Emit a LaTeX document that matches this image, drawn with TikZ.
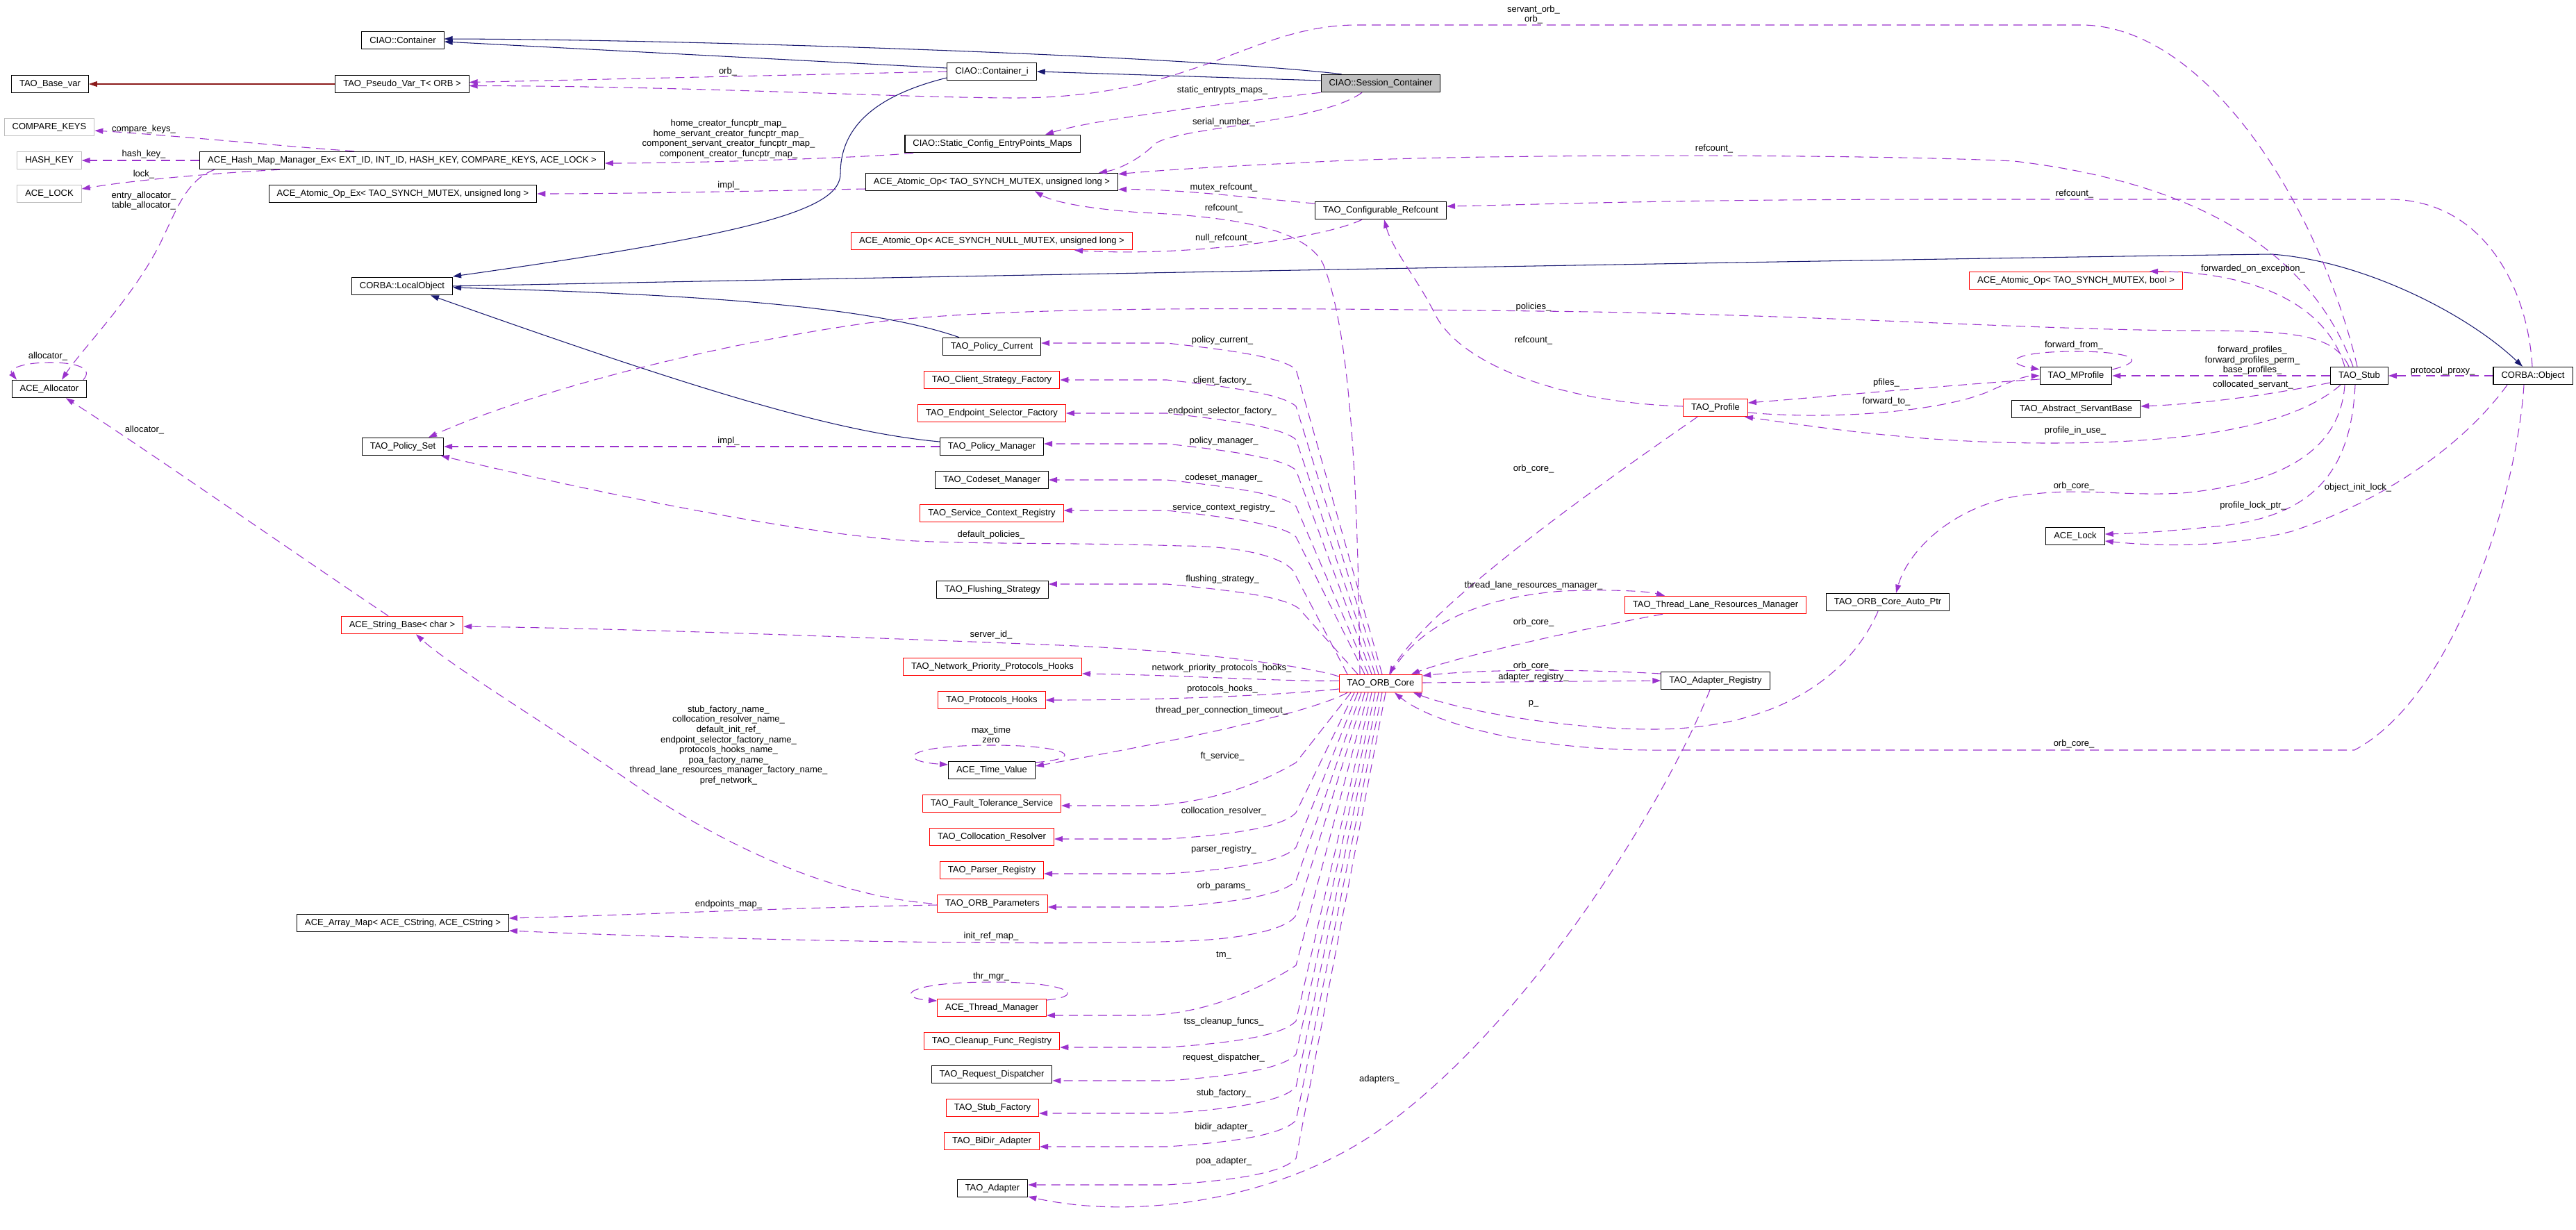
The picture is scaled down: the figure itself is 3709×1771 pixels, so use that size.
\documentclass[tikz,border=0pt]{standalone}
\usepackage{fontspec}
\setmainfont{Liberation Sans}
\usetikzlibrary{arrows.meta}
\definecolor{inhblue}{HTML}{191970}
\definecolor{usepurple}{HTML}{9A32CD}
\definecolor{protred}{HTML}{8B1A1A}
\definecolor{tplgray}{HTML}{BFBFBF}
\begin{document}
\begin{tikzpicture}[x=0.02cm,y=-0.02cm,
  every node/.style={font=\fontsize{7.4}{8.3}\selectfont},
  cls/.style={draw=black,line width=0.6pt,inner xsep=0.23cm,inner ysep=0pt,minimum height=0.51cm,fill=white},
  redcls/.style={cls,draw=red},
  tplcls/.style={cls,draw=tplgray},
  curcls/.style={cls,fill=tplgray},
  inh/.style={draw=inhblue,line width=0.6pt,-{Triangle[length=0.24cm,width=0.16cm]}},
  prot/.style={draw=protred,line width=0.6pt,-{Triangle[length=0.24cm,width=0.16cm]}},
  usage/.style={draw=usepurple,line width=0.6pt,dash pattern=on 0.26cm off 0.16cm,-{Triangle[length=0.24cm,width=0.16cm]}},
  lbl/.style={inner sep=0pt,align=center}
]
\path[fill=white] (0,0) rectangle (3709,1771);
\useasboundingbox (0,0) rectangle (3709,1771);

% ---------- classes ----------
\node[cls] (cont) at (580,58) {CIAO::Container};
\node[cls] (contI) at (1428,103) {CIAO::Container\_i};
\node[curcls] (sess) at (1988,120) {CIAO::Session\_Container};
\node[cls] (basevar) at (72,121) {TAO\_Base\_var};
\node[cls] (pseudo) at (579,121) {TAO\_Pseudo\_Var\_T< ORB >};
\node[tplcls] (cmpk) at (71,183) {COMPARE\_KEYS};
\node[tplcls] (hashk) at (71,231) {HASH\_KEY};
\node[cls] (hmm) at (579,231) {ACE\_Hash\_Map\_Manager\_Ex< EXT\_ID, INT\_ID, HASH\_KEY, COMPARE\_KEYS, ACE\_LOCK >};
\node[tplcls] (acelockp) at (71,279) {ACE\_LOCK};
\node[cls] (atomex) at (580,279) {ACE\_Atomic\_Op\_Ex< TAO\_SYNCH\_MUTEX, unsigned long >};
\node[cls] (static) at (1429,207) {CIAO::Static\_Config\_EntryPoints\_Maps};
\node[cls] (atomul) at (1428,262) {ACE\_Atomic\_Op< TAO\_SYNCH\_MUTEX, unsigned long >};
\node[redcls] (atomnull) at (1428,347) {ACE\_Atomic\_Op< ACE\_SYNCH\_NULL\_MUTEX, unsigned long >};
\node[cls] (cfgref) at (1988,303) {TAO\_Configurable\_Refcount};
\node[cls] (localobj) at (579,412) {CORBA::LocalObject};
\node[redcls] (atombool) at (2989,404) {ACE\_Atomic\_Op< TAO\_SYNCH\_MUTEX, bool >};
\node[cls] (policycur) at (1428,499) {TAO\_Policy\_Current};
\node[redcls] (clientsf) at (1428,547) {TAO\_Client\_Strategy\_Factory};
\node[redcls] (endpsf) at (1428,595) {TAO\_Endpoint\_Selector\_Factory};
\node[cls] (policyman) at (1428,643) {TAO\_Policy\_Manager};
\node[cls] (policyset) at (580,643) {TAO\_Policy\_Set};
\node[cls] (allocator) at (71,560) {ACE\_Allocator};
\node[redcls] (profile) at (2470,587) {TAO\_Profile};
\node[cls] (mprofile) at (2989,541) {TAO\_MProfile};
\node[cls] (stub) at (3397,541) {TAO\_Stub};
\node[cls] (object) at (3647,541) {CORBA::Object};
\node[cls] (servant) at (2989,589) {TAO\_Abstract\_ServantBase};
\node[cls] (codeset) at (1428,691) {TAO\_Codeset\_Manager};
\node[redcls] (scr) at (1428,739) {TAO\_Service\_Context\_Registry};
\node[cls] (lock) at (2988,772) {ACE\_Lock};
\node[cls] (flush) at (1429,849) {TAO\_Flushing\_Strategy};
\node[redcls] (tlrm) at (2470,871) {TAO\_Thread\_Lane\_Resources\_Manager};
\node[cls] (autoptr) at (2718,867) {TAO\_ORB\_Core\_Auto\_Ptr};
\node[redcls] (strbase) at (579,900) {ACE\_String\_Base< char >};
\node[redcls] (nph) at (1429,960) {TAO\_Network\_Priority\_Protocols\_Hooks};
\node[redcls] (orbcore) at (1988,984) {TAO\_ORB\_Core};
\node[cls] (adreg) at (2470,980) {TAO\_Adapter\_Registry};
\node[redcls] (ph) at (1428,1008) {TAO\_Protocols\_Hooks};
\node[cls] (timev) at (1428,1109) {ACE\_Time\_Value};
\node[redcls] (fts) at (1428,1157) {TAO\_Fault\_Tolerance\_Service};
\node[redcls] (colres) at (1428,1205) {TAO\_Collocation\_Resolver};
\node[redcls] (parser) at (1428,1253) {TAO\_Parser\_Registry};
\node[redcls] (orbparams) at (1429,1301) {TAO\_ORB\_Parameters};
\node[cls] (arraymap) at (580,1329) {ACE\_Array\_Map< ACE\_CString, ACE\_CString >};
\node[redcls] (thrmgr) at (1428,1451) {ACE\_Thread\_Manager};
\node[redcls] (cleanup) at (1428,1499) {TAO\_Cleanup\_Func\_Registry};
\node[cls] (reqdisp) at (1428,1547) {TAO\_Request\_Dispatcher};
\node[redcls] (stubf) at (1429,1595) {TAO\_Stub\_Factory};
\node[redcls] (bidir) at (1428,1643) {TAO\_BiDir\_Adapter};
\node[cls] (adapter) at (1429,1711) {TAO\_Adapter};

% ---------- inheritance ----------
\draw[inh] ([xshift=0.6cm]sess.north west) .. controls (1700,80) and (1000,57) .. ([yshift=0.04cm]cont.east);
\draw[inh] ([yshift=0.1cm]contI.west) -- ([yshift=-0.04cm]cont.east);
\draw[inh] ([yshift=0.08cm]sess.west) -- (contI.east);
\draw[inh] ([yshift=-0.18cm]contI.west) .. controls (1250,140) and (1210,190) .. (1210,250) .. controls (1210,300) and (1100,335) .. ([yshift=0.28cm]localobj.east);
\draw[inh] ([xshift=-0.94cm]policycur.north) .. controls (1250,440) and (1000,424) .. ([yshift=-0.04cm]localobj.east);
\draw[inh] ([yshift=0.14cm]policyman.west) .. controls (1200,622) and (1000,560) .. ([xshift=0.82cm]localobj.south);
\draw[inh] (localobj.east) .. controls (1500,395) and (2800,372) .. (3270,366) .. controls (3400,375) and (3550,450) .. ([xshift=-0.3cm]object.north);
\draw[prot] (pseudo.west) -- (basevar.east);

% ---------- usage ----------
\draw[usage] (contI.west) -- ([yshift=0.05cm]pseudo.east);
\draw[usage] ([xshift=-0.06cm]stub.north) .. controls (3340,300) and (3180,40) .. (3000,36) -- (1950,36) .. controls (1800,38) and (1720,140) .. (1464,141) .. controls (1300,141) and (1000,124) .. ([yshift=-0.05cm]pseudo.east);
\draw[usage] ([xshift=-1.38cm]hmm.north) .. controls (400,210) and (250,195) .. ([yshift=-0.1cm]cmpk.east);
\draw[usage] (hmm.west) -- (hashk.east);
\draw[usage] ([xshift=-3.52cm]hmm.south) .. controls (330,248) and (200,258) .. ([yshift=0.14cm]acelockp.east);
\draw[usage] ([xshift=-5.4cm]hmm.south) .. controls (270,258) and (255,300) .. (237,337) .. controls (200,420) and (120,500) .. ([xshift=0.36cm]allocator.north);
\draw[usage] ([xshift=0.98cm]allocator.north) .. controls (135,530) and (110,522) .. (72,522) .. controls (30,522) and (12,532) .. ([xshift=-0.94cm]allocator.north);
\draw[usage] ([xshift=-2.28cm]static.south) .. controls (1250,227) and (1000,235) .. ([yshift=-0.08cm]hmm.east);
\draw[usage] (sess.south west) .. controls (1800,145) and (1580,170) .. ([xshift=1.52cm]static.north);
\draw[usage] ([xshift=-0.54cm]sess.south) .. controls (1900,178) and (1690,183) .. (1662,208) .. controls (1640,230) and (1610,244) .. ([xshift=3.08cm]atomul.north);
\draw[usage] ([yshift=-0.2cm]atomul.west) .. controls (1100,275) and (900,279) .. (atomex.east);
\draw[usage] ([xshift=-0.18cm]stub.north) .. controls (3340,400) and (3220,270) .. (2900,232) .. controls (2700,222) and (2100,220) .. (1860,235) .. controls (1750,240) and (1660,246) .. ([yshift=-0.04cm]atomul.north east);
\draw[usage] ([yshift=0.2cm]cfgref.west) .. controls (1820,287) and (1700,272) .. ([yshift=0.05cm]atomul.south east);
\draw[usage] ([xshift=-0.6cm]orbcore.north) .. controls (1955,700) and (1945,480) .. (1905,380) .. controls (1880,330) and (1780,312) .. (1642,306) .. controls (1560,300) and (1515,290) .. ([xshift=1.24cm]atomul.south);
\draw[usage] ([xshift=-0.54cm]cfgref.south) .. controls (1900,345) and (1700,370) .. ([xshift=2.38cm]atomnull.south);
\draw[usage] ([xshift=-0.02cm]object.north) .. controls (3640,420) and (3580,288) .. (3440,287) -- (2800,287) .. controls (2400,287) and (2200,295) .. ([yshift=0.12cm]cfgref.east);
\draw[usage] ([yshift=0.04cm]profile.west) .. controls (2250,580) and (2100,525) .. (2065,450) .. controls (2040,400) and (2005,360) .. ([xshift=0.1cm]cfgref.south);
\draw[usage] (object.west) -- (stub.east);
\draw[usage] ([xshift=-0.42cm]stub.north) .. controls (3350,440) and (3250,392) .. ([xshift=2.12cm]atombool.north);
\draw[usage] (stub.west) -- (mprofile.east);
\draw[usage] ([yshift=0.18cm]mprofile.east) .. controls (3100,517) and (3060,506) .. (2988,506) .. controls (2900,506) and (2880,522) .. ([yshift=0.18cm]mprofile.west);
\draw[usage] ([yshift=-0.1cm]mprofile.west) .. controls (2800,555) and (2620,572) .. ([yshift=0.14cm]profile.east);
\draw[usage] ([yshift=-0.14cm]profile.east) .. controls (2650,606) and (2800,590) .. (2860,565) .. controls (2890,552) and (2910,542) .. (mprofile.west);
\draw[usage] ([yshift=-0.2cm]stub.west) .. controls (3300,562) and (3200,580) .. ([yshift=0.08cm]servant.east);
\draw[usage] ([xshift=-0.54cm]stub.south) .. controls (3300,615) and (3150,638) .. (2950,638) .. controls (2750,638) and (2600,612) .. ([xshift=-0.1cm]profile.south east);
\draw[usage] ([xshift=-0.52cm]profile.south) .. controls (2300,700) and (2060,870) .. ([xshift=0.24cm]orbcore.north);
\draw[usage] ([xshift=-0.42cm]stub.south) .. controls (3370,640) and (3300,695) .. (3142,710) .. controls (3050,715) and (2990,700) .. (2900,715) .. controls (2800,735) and (2745,800) .. ([xshift=0.24cm]autoptr.north);
\draw[usage] ([xshift=-0.12cm]stub.south) .. controls (3385,680) and (3330,742) .. (3200,757) .. controls (3120,765) and (3080,768) .. ([yshift=0.06cm]lock.east);
\draw[usage] ([xshift=-0.74cm]object.south) .. controls (3540,650) and (3420,725) .. (3300,765) .. controls (3200,790) and (3100,786) .. ([yshift=-0.14cm]lock.east);
\draw[usage] ([xshift=-0.26cm]object.south) .. controls (3625,700) and (3540,1000) .. (3390,1080) -- (2400,1080) .. controls (2200,1082) and (2060,1040) .. ([xshift=0.4cm]orbcore.south);
\draw[usage] ([xshift=-0.28cm]autoptr.south) .. controls (2660,980) and (2550,1050) .. (2380,1050) .. controls (2250,1050) and (2100,1022) .. ([xshift=0.94cm]orbcore.south);
\draw[usage] ([xshift=0.28cm]orbcore.north) .. controls (2030,920) and (2100,862) .. (2250,851) .. controls (2330,848) and (2375,852) .. ([xshift=-1.46cm]tlrm.north);
\draw[usage] ([xshift=-1.52cm]tlrm.south) .. controls (2280,905) and (2100,945) .. ([xshift=0.88cm]orbcore.north);
\draw[usage] ([yshift=0.2cm]adreg.west) .. controls (2250,962) and (2120,965) .. ([yshift=0.22cm]orbcore.east);
\draw[usage] ([yshift=0.02cm]orbcore.east) -- (adreg.west);
\draw[usage] ([xshift=-0.16cm]adreg.south) .. controls (2400,1150) and (2200,1480) .. (1979,1632) .. controls (1850,1720) and (1650,1760) .. ([yshift=-0.24cm]adapter.east);
\draw[usage] (policyman.west) -- (policyset.east);
\draw[usage] ([xshift=-0.3cm]stub.north) .. controls (3360,480) and (3300,476) .. (3150,476) .. controls (2900,474) and (2600,452) .. (2216,448) .. controls (1800,443) and (1450,440) .. (1250,465) .. controls (1000,500) and (750,570) .. ([xshift=0.74cm]policyset.north);
\draw[usage] ([xshift=-0.96cm]orbcore.north) -- (1862,822) .. controls (1845,800) and (1780,786) .. (1700,786) .. controls (1550,781) and (1400,784) .. (1300,778) .. controls (1100,762) and (800,695) .. ([xshift=1.1cm]policyset.south);
\draw[usage] ([yshift=0.2cm]orbcore.west) .. controls (1880,958) and (1700,935) .. (1500,928) .. controls (1200,916) and (900,905) .. ([yshift=-0.04cm]strbase.east);
\draw[usage] ([xshift=-0.14cm]orbparams.west) .. controls (1200,1290) and (1050,1220) .. (930,1141) .. controls (800,1050) and (650,960) .. ([xshift=0.4cm]strbase.south);
\draw[usage] ([xshift=-0.4cm]strbase.north) .. controls (400,780) and (200,640) .. ([xshift=0.48cm]allocator.south);
\draw[usage] ([yshift=0.08cm]orbcore.west) .. controls (1860,982) and (1700,972) .. ([yshift=-0.2cm]nph.east);
\draw[usage] ([yshift=-0.16cm]orbcore.west) .. controls (1850,1000) and (1700,1008) .. (ph.east);
\draw[usage] ([xshift=-0.96cm]orbcore.south) .. controls (1880,1030) and (1650,1075) .. ([yshift=0.12cm]timev.east);
\draw[usage] ([yshift=-0.04cm]timev.north east) .. controls (1565,1092) and (1540,1073) .. (1428,1073) .. controls (1300,1073) and (1290,1096) .. ([yshift=0.16cm]timev.west);
\draw[usage] ([yshift=0.22cm]thrmgr.east) .. controls (1565,1434) and (1540,1414) .. (1428,1414) .. controls (1300,1414) and (1290,1437) .. ([yshift=0.2cm]thrmgr.west);
\draw[usage] ([yshift=-0.04cm]orbparams.west) .. controls (1100,1308) and (900,1318) .. ([yshift=0.14cm]arraymap.east);

% top fan from TAO_ORB_Core
\draw[usage] ([xshift=0.04cm]orbcore.north) -- (1866,532) .. controls (1846,514) and (1770,504) .. (1680,494) -- ([yshift=0.1cm]policycur.east);
\draw[usage] ([xshift=-0.06cm]orbcore.north) -- (1866,585) .. controls (1846,567) and (1770,557) .. (1680,547) -- (clientsf.east);
\draw[usage] ([xshift=-0.16cm]orbcore.north) -- (1866,633) .. controls (1846,615) and (1770,605) .. (1680,595) -- (endpsf.east);
\draw[usage] ([xshift=-0.26cm]orbcore.north) -- (1866,677) .. controls (1846,659) and (1770,649) .. (1680,639) -- ([yshift=0.08cm]policyman.east);
\draw[usage] ([xshift=-0.36cm]orbcore.north) -- (1866,729) .. controls (1846,711) and (1770,701) .. (1680,691) -- (codeset.east);
\draw[usage] ([xshift=-0.46cm]orbcore.north) -- (1866,773) .. controls (1846,755) and (1770,745) .. (1680,735) -- ([yshift=0.08cm]scr.east);
\draw[usage] ([xshift=-0.66cm]orbcore.north) -- (1870,876) .. controls (1846,858) and (1770,850) .. (1680,841) -- ([yshift=0.16cm]flush.east);

% bottom fan from TAO_ORB_Core
\draw[usage] ([xshift=-0.86cm]orbcore.south) -- (1866,1098) .. controls (1820,1125) and (1740,1160) .. (1640,1160) -- ([yshift=-0.06cm]fts.east);
\draw[usage] ([xshift=-0.76cm]orbcore.south) -- (1866,1170) .. controls (1846,1192) and (1770,1202) .. (1680,1208) -- ([yshift=-0.06cm]colres.east);
\draw[usage] ([xshift=-0.66cm]orbcore.south) -- (1866,1220) .. controls (1846,1242) and (1770,1252) .. (1680,1258) -- ([yshift=-0.1cm]parser.east);
\draw[usage] ([xshift=-0.56cm]orbcore.south) -- (1866,1268) .. controls (1846,1290) and (1770,1300) .. (1680,1306) -- ([yshift=-0.1cm]orbparams.east);
\draw[usage] ([xshift=-0.46cm]orbcore.south) -- (1866,1318) .. controls (1852,1340) and (1780,1353) .. (1701,1355) .. controls (1500,1363) and (1000,1352) .. ([yshift=-0.22cm]arraymap.east);
\draw[usage] ([xshift=-0.36cm]orbcore.south) -- (1866,1390) .. controls (1820,1420) and (1740,1462) .. (1640,1462) -- ([yshift=-0.22cm]thrmgr.east);
\draw[usage] ([xshift=-0.26cm]orbcore.south) -- (1866,1470) .. controls (1846,1492) and (1770,1502) .. (1680,1508) -- ([yshift=-0.18cm]cleanup.east);
\draw[usage] ([xshift=-0.16cm]orbcore.south) -- (1866,1518) .. controls (1846,1540) and (1770,1550) .. (1680,1556) -- ([yshift=-0.18cm]reqdisp.east);
\draw[usage] ([xshift=-0.06cm]orbcore.south) -- (1866,1565) .. controls (1846,1587) and (1770,1597) .. (1680,1603) -- ([yshift=-0.16cm]stubf.east);
\draw[usage] ([xshift=0.04cm]orbcore.south) -- (1866,1613) .. controls (1846,1635) and (1770,1645) .. (1680,1651) -- ([yshift=-0.16cm]bidir.east);
\draw[usage] ([xshift=0.14cm]orbcore.south) -- (1866,1668) .. controls (1846,1690) and (1770,1700) .. (1680,1706) -- ([yshift=0.1cm]adapter.east);

% ---------- labels ----------
\node[lbl] (Lservantorb) at (2208,21) {servant\_orb\_\\orb\_};
\node[lbl] (Lorb) at (1048,103) {orb\_};
\node[lbl] (Lfuncptr) at (1049,200) {home\_creator\_funcptr\_map\_\\home\_servant\_creator\_funcptr\_map\_\\component\_servant\_creator\_funcptr\_map\_\\component\_creator\_funcptr\_map\_};
\node[lbl] (Lstatic) at (1760,130) {static\_entrypts\_maps\_};
\node[lbl] (Lserial) at (1762,176) {serial\_number\_};
\node[lbl] (Lrefc1) at (2468,214) {refcount\_};
\node[lbl] (Lcmpk) at (207,186) {compare\_keys\_};
\node[lbl] (Lhashk) at (207,222) {hash\_key\_};
\node[lbl] (Llock) at (207,251) {lock\_};
\node[lbl] (Lentry) at (207,289) {entry\_allocator\_\\table\_allocator\_};
\node[lbl] (Limpl1) at (1049,267) {impl\_};
\node[lbl] (Lmutex) at (1762,270) {mutex\_refcount\_};
\node[lbl] (Lrefc2) at (1762,300) {refcount\_};
\node[lbl] (Lrefc3) at (2987,279) {refcount\_};
\node[lbl] (Lnullref) at (1762,343) {null\_refcount\_};
\node[lbl] (Lfwdexc) at (3244,387) {forwarded\_on\_exception\_};
\node[lbl] (Lpolicies) at (2208,442) {policies\_};
\node[lbl] (Lpolcur) at (1760,490) {policy\_current\_};
\node[lbl] (Lrefc4) at (2208,490) {refcount\_};
\node[lbl] (Lfwdfrom) at (2986,497) {forward\_from\_};
\node[lbl] (Lfwdprof) at (3243,519) {forward\_profiles\_\\forward\_profiles\_perm\_\\base\_profiles\_};
\node[lbl] (Lproxy) at (3517,534) {protocol\_proxy\_};
\node[lbl] (Lalloc1) at (69,513) {allocator\_};
\node[lbl] (Lclientf) at (1760,548) {client\_factory\_};
\node[lbl] (Lpfiles) at (2716,551) {pfiles\_};
\node[lbl] (Lcolloc) at (3244,554) {collocated\_servant\_};
\node[lbl] (Lfwdto) at (2716,578) {forward\_to\_};
\node[lbl] (Lendp) at (1760,592) {endpoint\_selector\_factory\_};
\node[lbl] (Lalloc2) at (208,619) {allocator\_};
\node[lbl] (Lprofuse) at (2988,620) {profile\_in\_use\_};
\node[lbl] (Limpl2) at (1049,635) {impl\_};
\node[lbl] (Lpolman) at (1762,635) {policy\_manager\_};
\node[lbl] (Lorbcore1) at (2208,675) {orb\_core\_};
\node[lbl] (Lcodeset) at (1762,688) {codeset\_manager\_};
\node[lbl] (Lorbcore2) at (2986,700) {orb\_core\_};
\node[lbl] (Lobjlock) at (3395,702) {object\_init\_lock\_};
\node[lbl] (Lproflock) at (3244,728) {profile\_lock\_ptr\_};
\node[lbl] (Lscr) at (1762,731) {service\_context\_registry\_};
\node[lbl] (Ldefpol) at (1427,770) {default\_policies\_};
\node[lbl] (Lflush) at (1760,834) {flushing\_strategy\_};
\node[lbl] (Ltlrm) at (2208,843) {thread\_lane\_resources\_manager\_};
\node[lbl] (Lorbcore3) at (2208,896) {orb\_core\_};
\node[lbl] (Lserverid) at (1427,914) {server\_id\_};
\node[lbl] (Lorbcore4) at (2208,959) {orb\_core\_};
\node[lbl] (Lnph) at (1759,962) {network\_priority\_protocols\_hooks\_};
\node[lbl] (Ladreg) at (2208,975) {adapter\_registry\_};
\node[lbl] (Lph) at (1760,992) {protocols\_hooks\_};
\node[lbl] (Lp) at (2208,1013) {p\_};
\node[lbl] (Ltpct) at (1759,1023) {thread\_per\_connection\_timeout\_};
\node[lbl] (Lnames) at (1049,1073) {stub\_factory\_name\_\\collocation\_resolver\_name\_\\default\_init\_ref\_\\endpoint\_selector\_factory\_name\_\\protocols\_hooks\_name\_\\poa\_factory\_name\_\\thread\_lane\_resources\_manager\_factory\_name\_\\pref\_network\_};
\node[lbl] (Lmaxtime) at (1427,1058) {max\_time\\zero};
\node[lbl] (Lorbcore5) at (2986,1071) {orb\_core\_};
\node[lbl] (Lft) at (1760,1089) {ft\_service\_};
\node[lbl] (Lcolres) at (1762,1168) {collocation\_resolver\_};
\node[lbl] (Lparser) at (1762,1223) {parser\_registry\_};
\node[lbl] (Lorbparams) at (1762,1276) {orb\_params\_};
\node[lbl] (Lendpmap) at (1049,1302) {endpoints\_map\_};
\node[lbl] (Linitref) at (1427,1348) {init\_ref\_map\_};
\node[lbl] (Ltm) at (1762,1376) {tm\_};
\node[lbl] (Lthrmgr) at (1427,1406) {thr\_mgr\_};
\node[lbl] (Ltss) at (1762,1471) {tss\_cleanup\_funcs\_};
\node[lbl] (Lreqdisp) at (1762,1523) {request\_dispatcher\_};
\node[lbl] (Ladapters) at (1986,1554) {adapters\_};
\node[lbl] (Lstubf) at (1762,1574) {stub\_factory\_};
\node[lbl] (Lbidir) at (1762,1623) {bidir\_adapter\_};
\node[lbl] (Lpoa) at (1762,1672) {poa\_adapter\_};
\end{tikzpicture}
\end{document}
